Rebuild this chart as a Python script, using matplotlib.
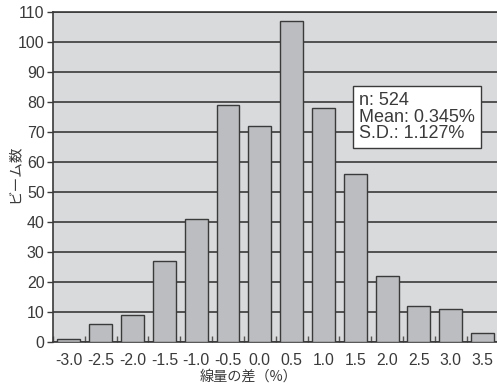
import matplotlib
matplotlib.use("Agg")
import matplotlib.pyplot as plt
import numpy as np

categories = ["-3.0", "-2.5", "-2.0", "-1.5", "-1.0", "-0.5", "0.0",
              "0.5", "1.0", "1.5", "2.0", "2.5", "3.0", "3.5"]
counts = [1, 6, 9, 27, 41, 79, 72, 107, 78, 56, 22, 12, 11, 3]
yticks = [0, 10, 20, 30, 40, 50, 60, 70, 80, 90, 100, 110]
stats_text = "n: 524\nMean: 0.345%\nS.D.: 1.127%"
xlabel = "線量の差（%）"
ylabel = "ビーム数"

W, H = 497, 389
fig = plt.figure(figsize=(W / 100, H / 100), dpi=100)
fig.patch.set_facecolor("white")

left, right, top, bottom = 53, 498.5, 12.3, 342.3
ax = fig.add_axes([left / W, 1 - bottom / H, (right - left) / W, (bottom - top) / H])
ax.set_facecolor("#d9dadb")

x = np.arange(len(categories))
ax.set_axisbelow(True)
ax.yaxis.grid(True, color="#3a3a3a", linewidth=1.2)
ax.bar(x, counts, width=0.72, color="#bcbdc0", edgecolor="#3a3a3a", linewidth=1.0, zorder=3)

ax.set_xlim(-0.5, len(categories) - 0.5)
ax.set_ylim(0, 110)
ax.set_yticks(yticks)
ax.set_yticklabels([str(v) for v in yticks], fontsize=11.5, color="#3a3a3a",
                   family="Liberation Sans")
ax.set_xticks(x)
ax.set_xticklabels(categories, fontsize=11.3, color="#3a3a3a", family="Liberation Sans")
ax.tick_params(axis="x", length=0, pad=7.5)
ax.set_xticks(np.arange(len(categories) + 1) - 0.5, minor=True)
ax.tick_params(axis="x", which="minor", direction="in", length=4, color="#555555", width=1)
ax.tick_params(axis="y", direction="out", length=4, color="#3a3a3a", width=1, pad=2)

for s in ["left", "bottom", "top"]:
    ax.spines[s].set_color("#3a3a3a")
    ax.spines[s].set_linewidth(1.2)
ax.spines["right"].set_visible(False)

fig.text(249 / W, 1 - 377 / H, xlabel, ha="center", va="center", fontsize=10.2,
         color="#3a3a3a", family=["Noto Sans CJK JP", "DejaVu Sans"])
fig.text(15 / W, 1 - 174 / H, ylabel, ha="center", va="center", fontsize=10.5,
         rotation=90, color="#3a3a3a", family=["Noto Sans CJK JP", "DejaVu Sans"])

ax.text(0.687, 0.758, stats_text, transform=ax.transAxes, ha="left", va="top",
        fontsize=13, color="#3a3a3a", family="Liberation Sans", linespacing=0.95,
        zorder=5,
        bbox=dict(boxstyle="square,pad=0.35", facecolor="white", edgecolor="#3a3a3a",
                  linewidth=1.0))

fig.savefig("out.png", dpi=100)
